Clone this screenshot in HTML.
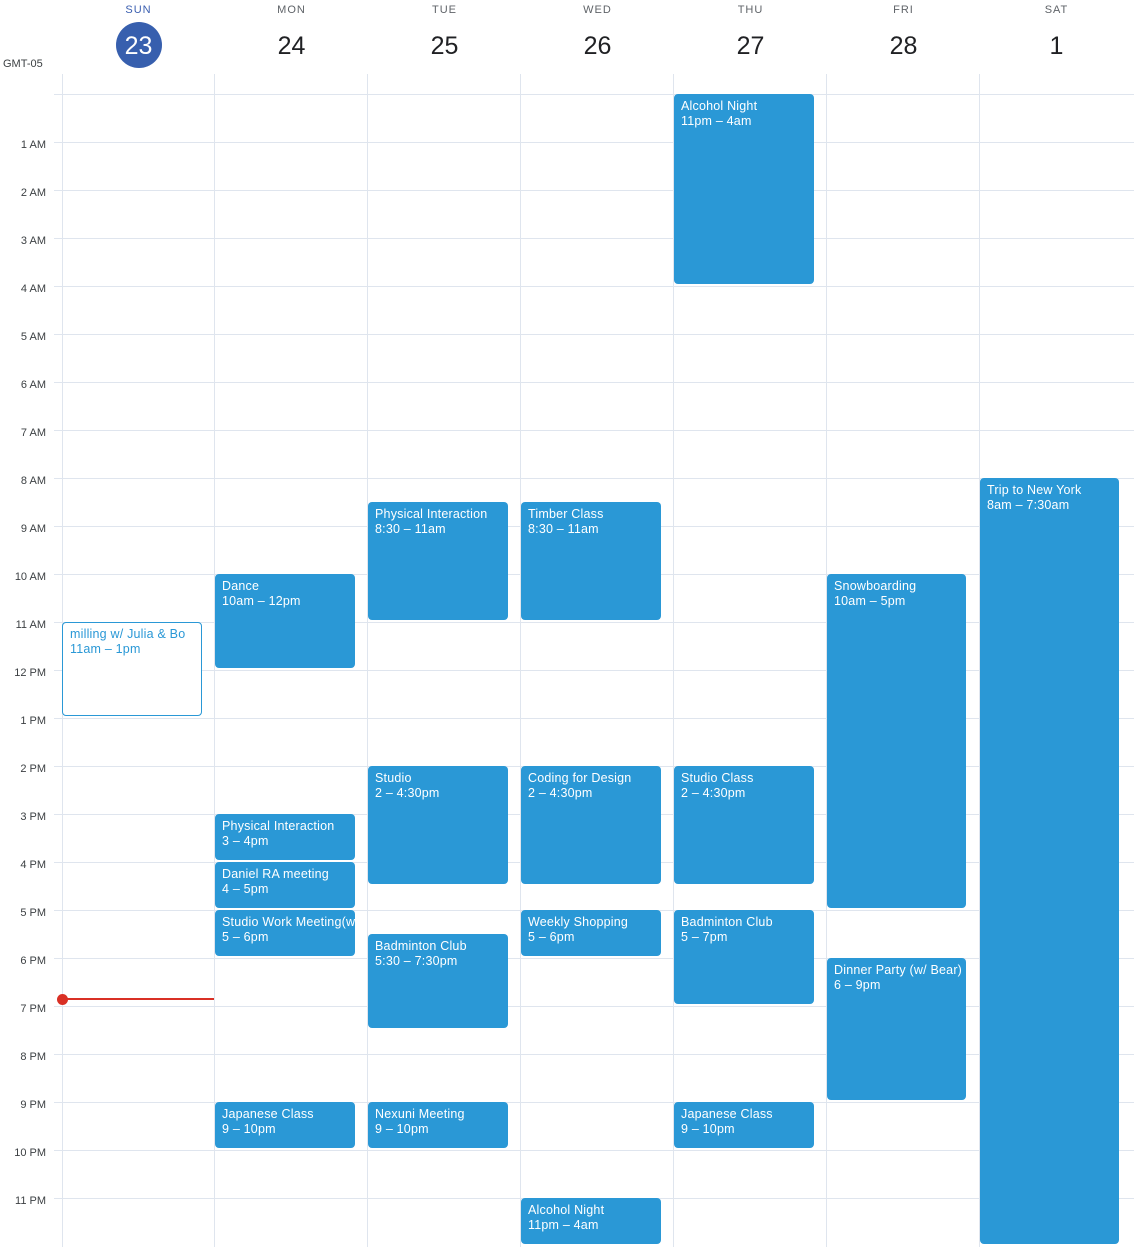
<!DOCTYPE html>
<html><head><meta charset="utf-8"><style>
body{margin:0;width:1134px;height:1247px;background:#fff;position:relative;overflow:hidden;font-family:"Liberation Sans",Arial,sans-serif;}
.a{position:absolute}
.hl{position:absolute;left:54px;width:1080px;height:1px;background:#dfe5ee}
.vl{position:absolute;top:74px;width:1px;height:1173px;background:#dfe5ee}
.lbl{position:absolute;left:0;width:46px;text-align:right;font-size:11px;color:#3c4043;}
.dn{position:absolute;width:153px;text-align:center;font-size:11px;letter-spacing:1px;color:#5f6368;top:4px}
.dd{position:absolute;width:153px;text-align:center;font-size:25px;color:#202124;top:32px}
.ev{position:absolute;background:#2a98d6;border-radius:4px;color:#fff;font-size:12.5px;padding:5px 7px;box-sizing:border-box;line-height:15px;overflow:hidden;white-space:nowrap;letter-spacing:0.2px}
</style></head><body>
<div class="dn" style="left:62px;color:#3b5fb0">SUN</div>
<div class="a" style="left:116px;top:22px;width:46px;height:46px;border-radius:50%;background:#375fae"></div>
<div class="dd" style="left:62px;color:#fff">23</div>
<div class="dn" style="left:215px">MON</div><div class="dd" style="left:215px">24</div>
<div class="dn" style="left:368px">TUE</div><div class="dd" style="left:368px">25</div>
<div class="dn" style="left:521px">WED</div><div class="dd" style="left:521px">26</div>
<div class="dn" style="left:674px">THU</div><div class="dd" style="left:674px">27</div>
<div class="dn" style="left:827px">FRI</div><div class="dd" style="left:827px">28</div>
<div class="dn" style="left:980px">SAT</div><div class="dd" style="left:980px">1</div>
<div class="a" style="left:3px;top:58px;font-size:11px;color:#3c4043">GMT-05</div>
<div class="vl" style="left:62px"></div><div class="vl" style="left:214px"></div><div class="vl" style="left:367px"></div><div class="vl" style="left:520px"></div><div class="vl" style="left:673px"></div><div class="vl" style="left:826px"></div><div class="vl" style="left:979px"></div>
<div class="hl" style="top:94px"></div>
<div class="hl" style="top:142px"></div><div class="lbl" style="top:139px">1 AM</div>
<div class="hl" style="top:190px"></div><div class="lbl" style="top:187px">2 AM</div>
<div class="hl" style="top:238px"></div><div class="lbl" style="top:235px">3 AM</div>
<div class="hl" style="top:286px"></div><div class="lbl" style="top:283px">4 AM</div>
<div class="hl" style="top:334px"></div><div class="lbl" style="top:331px">5 AM</div>
<div class="hl" style="top:382px"></div><div class="lbl" style="top:379px">6 AM</div>
<div class="hl" style="top:430px"></div><div class="lbl" style="top:427px">7 AM</div>
<div class="hl" style="top:478px"></div><div class="lbl" style="top:475px">8 AM</div>
<div class="hl" style="top:526px"></div><div class="lbl" style="top:523px">9 AM</div>
<div class="hl" style="top:574px"></div><div class="lbl" style="top:571px">10 AM</div>
<div class="hl" style="top:622px"></div><div class="lbl" style="top:619px">11 AM</div>
<div class="hl" style="top:670px"></div><div class="lbl" style="top:667px">12 PM</div>
<div class="hl" style="top:718px"></div><div class="lbl" style="top:715px">1 PM</div>
<div class="hl" style="top:766px"></div><div class="lbl" style="top:763px">2 PM</div>
<div class="hl" style="top:814px"></div><div class="lbl" style="top:811px">3 PM</div>
<div class="hl" style="top:862px"></div><div class="lbl" style="top:859px">4 PM</div>
<div class="hl" style="top:910px"></div><div class="lbl" style="top:907px">5 PM</div>
<div class="hl" style="top:958px"></div><div class="lbl" style="top:955px">6 PM</div>
<div class="hl" style="top:1006px"></div><div class="lbl" style="top:1003px">7 PM</div>
<div class="hl" style="top:1054px"></div><div class="lbl" style="top:1051px">8 PM</div>
<div class="hl" style="top:1102px"></div><div class="lbl" style="top:1099px">9 PM</div>
<div class="hl" style="top:1150px"></div><div class="lbl" style="top:1147px">10 PM</div>
<div class="hl" style="top:1198px"></div><div class="lbl" style="top:1195px">11 PM</div>

<div class="ev" style="left:62px;top:622px;width:140px;height:94px;background:#fff;border:1px solid #2a98d6;color:#2a98d6;padding:4px 7px">milling w/ Julia &amp; Bo<br>11am – 1pm</div>
<div class="ev" style="left:215px;top:574px;width:140px;height:94px">Dance<br>10am – 12pm</div>
<div class="ev" style="left:215px;top:814px;width:140px;height:46px">Physical Interaction<br>3 – 4pm</div>
<div class="ev" style="left:215px;top:862px;width:140px;height:46px">Daniel RA meeting<br>4 – 5pm</div>
<div class="ev" style="left:215px;top:910px;width:140px;height:46px">Studio Work Meeting(w<br>5 – 6pm</div>
<div class="ev" style="left:215px;top:1102px;width:140px;height:46px">Japanese Class<br>9 – 10pm</div>
<div class="ev" style="left:368px;top:502px;width:140px;height:118px">Physical Interaction<br>8:30 – 11am</div>
<div class="ev" style="left:368px;top:766px;width:140px;height:118px">Studio<br>2 – 4:30pm</div>
<div class="ev" style="left:368px;top:934px;width:140px;height:94px">Badminton Club<br>5:30 – 7:30pm</div>
<div class="ev" style="left:368px;top:1102px;width:140px;height:46px">Nexuni Meeting<br>9 – 10pm</div>
<div class="ev" style="left:521px;top:502px;width:140px;height:118px">Timber Class<br>8:30 – 11am</div>
<div class="ev" style="left:521px;top:766px;width:140px;height:118px">Coding for Design<br>2 – 4:30pm</div>
<div class="ev" style="left:521px;top:910px;width:140px;height:46px">Weekly Shopping<br>5 – 6pm</div>
<div class="ev" style="left:521px;top:1198px;width:140px;height:46px">Alcohol Night<br>11pm – 4am</div>
<div class="ev" style="left:674px;top:94px;width:140px;height:190px">Alcohol Night<br>11pm – 4am</div>
<div class="ev" style="left:674px;top:766px;width:140px;height:118px">Studio Class<br>2 – 4:30pm</div>
<div class="ev" style="left:674px;top:910px;width:140px;height:94px">Badminton Club<br>5 – 7pm</div>
<div class="ev" style="left:674px;top:1102px;width:140px;height:46px">Japanese Class<br>9 – 10pm</div>
<div class="ev" style="left:827px;top:574px;width:139px;height:334px">Snowboarding<br>10am – 5pm</div>
<div class="ev" style="left:827px;top:958px;width:139px;height:142px">Dinner Party (w/ Bear)<br>6 – 9pm</div>
<div class="ev" style="left:980px;top:478px;width:139px;height:766px">Trip to New York<br>8am – 7:30am</div>

<div class="a" style="left:62px;top:998px;width:152px;height:2px;background:#d93025"></div>
<div class="a" style="left:57px;top:994px;width:11px;height:11px;border-radius:50%;background:#d93025"></div>
</body></html>
